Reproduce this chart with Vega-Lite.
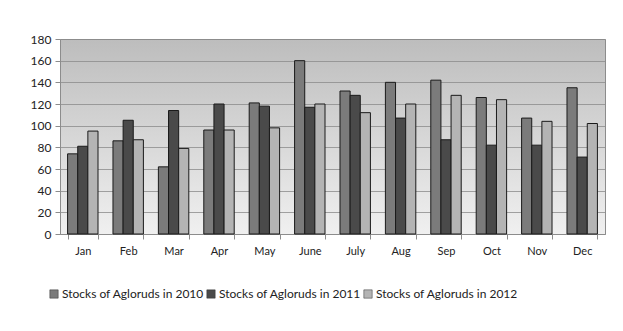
{
  "$schema": "https://vega.github.io/schema/vega-lite/v6.json",
  "width": 545,
  "height": 195,
  "autosize": {"type": "none"},
  "padding": {"left": 60, "top": 39, "right": 18, "bottom": 97},
  "background": "white",
  "config": {
    "view": {
      "stroke": "#8c8c8c",
      "strokeWidth": 1,
      "fill": {"gradient": "linear", "x1": 0, "y1": 0, "x2": 0, "y2": 1, "stops": [{"offset": 0, "color": "#bdbdbd"}, {"offset": 1, "color": "#f0f0f0"}]}
    },
    "font": "Lato"
  },
  "data": {
    "values": [
      {"month": "Jan", "series": "Stocks of Agloruds in 2010", "value": 74},
      {"month": "Jan", "series": "Stocks of Agloruds in 2011", "value": 81},
      {"month": "Jan", "series": "Stocks of Agloruds in 2012", "value": 95},
      {"month": "Feb", "series": "Stocks of Agloruds in 2010", "value": 86},
      {"month": "Feb", "series": "Stocks of Agloruds in 2011", "value": 105},
      {"month": "Feb", "series": "Stocks of Agloruds in 2012", "value": 87},
      {"month": "Mar", "series": "Stocks of Agloruds in 2010", "value": 62},
      {"month": "Mar", "series": "Stocks of Agloruds in 2011", "value": 114},
      {"month": "Mar", "series": "Stocks of Agloruds in 2012", "value": 79},
      {"month": "Apr", "series": "Stocks of Agloruds in 2010", "value": 96},
      {"month": "Apr", "series": "Stocks of Agloruds in 2011", "value": 120},
      {"month": "Apr", "series": "Stocks of Agloruds in 2012", "value": 96},
      {"month": "May", "series": "Stocks of Agloruds in 2010", "value": 121},
      {"month": "May", "series": "Stocks of Agloruds in 2011", "value": 118},
      {"month": "May", "series": "Stocks of Agloruds in 2012", "value": 98},
      {"month": "June", "series": "Stocks of Agloruds in 2010", "value": 160},
      {"month": "June", "series": "Stocks of Agloruds in 2011", "value": 117},
      {"month": "June", "series": "Stocks of Agloruds in 2012", "value": 120},
      {"month": "July", "series": "Stocks of Agloruds in 2010", "value": 132},
      {"month": "July", "series": "Stocks of Agloruds in 2011", "value": 128},
      {"month": "July", "series": "Stocks of Agloruds in 2012", "value": 112},
      {"month": "Aug", "series": "Stocks of Agloruds in 2010", "value": 140},
      {"month": "Aug", "series": "Stocks of Agloruds in 2011", "value": 107},
      {"month": "Aug", "series": "Stocks of Agloruds in 2012", "value": 120},
      {"month": "Sep", "series": "Stocks of Agloruds in 2010", "value": 142},
      {"month": "Sep", "series": "Stocks of Agloruds in 2011", "value": 87},
      {"month": "Sep", "series": "Stocks of Agloruds in 2012", "value": 128},
      {"month": "Oct", "series": "Stocks of Agloruds in 2010", "value": 126},
      {"month": "Oct", "series": "Stocks of Agloruds in 2011", "value": 82},
      {"month": "Oct", "series": "Stocks of Agloruds in 2012", "value": 124},
      {"month": "Nov", "series": "Stocks of Agloruds in 2010", "value": 107},
      {"month": "Nov", "series": "Stocks of Agloruds in 2011", "value": 82},
      {"month": "Nov", "series": "Stocks of Agloruds in 2012", "value": 104},
      {"month": "Dec", "series": "Stocks of Agloruds in 2010", "value": 135},
      {"month": "Dec", "series": "Stocks of Agloruds in 2011", "value": 71},
      {"month": "Dec", "series": "Stocks of Agloruds in 2012", "value": 102}
    ]
  },
  "mark": {"type": "bar", "stroke": "#1a1a1a", "strokeWidth": 1},
  "encoding": {
    "x": {
      "field": "month",
      "type": "nominal",
      "sort": null,
      "scale": {"paddingInner": 0.33, "paddingOuter": 0.167},
      "axis": {
        "title": null,
        "labelAngle": 0,
        "labelFontSize": 11,
        "labelColor": "#222",
        "labelPadding": 6,
        "tickBand": "extent",
        "tickColor": "#8c8c8c",
        "tickSize": 5,
        "domainColor": "#8c8c8c"
      }
    },
    "xOffset": {"field": "series", "type": "nominal"},
    "y": {
      "field": "value",
      "type": "quantitative",
      "scale": {"domain": [0, 180], "nice": false},
      "axis": {
        "title": null,
        "values": [0, 20, 40, 60, 80, 100, 120, 140, 160, 180],
        "labelFontSize": 12,
        "labelColor": "#222",
        "labelPadding": 4,
        "tickColor": "#8c8c8c",
        "tickSize": 5,
        "domainColor": "#8c8c8c",
        "gridColor": "#8c8c8c",
        "gridOpacity": 0.8
      }
    },
    "color": {
      "field": "series",
      "type": "nominal",
      "scale": {"range": ["#7b7b7b", "#4a4a4a", "#b4b4b4"]},
      "legend": {
        "title": null,
        "orient": "none",
        "direction": "horizontal",
        "legendX": -12,
        "legendY": 249,
        "symbolType": "square",
        "symbolSize": 70,
        "symbolStrokeColor": "#333",
        "symbolStrokeWidth": 0.5,
        "labelFontSize": 12,
        "labelColor": "#222",
        "labelOffset": 2,
        "columnPadding": 1
      }
    }
  }
}
